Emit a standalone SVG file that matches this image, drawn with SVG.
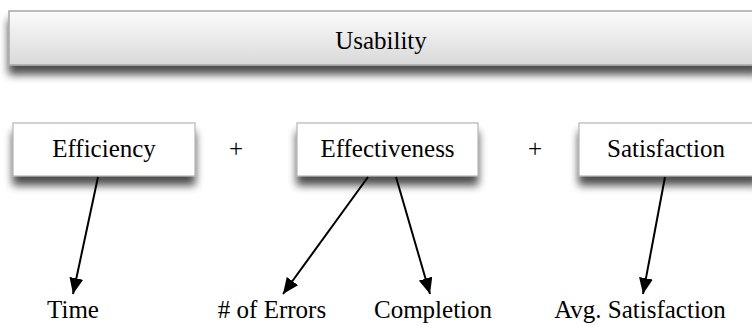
<svg xmlns="http://www.w3.org/2000/svg" width="752" height="325" viewBox="0 0 752 325">
<style>
  text { font-family: 'Liberation Serif', 'Times New Roman', Times, serif; font-size: 25px; fill: #000; text-anchor: middle; }
  .box { fill: #ffffff; stroke: #a6a6a6; stroke-width: 1; }
  .top { fill: url(#grad); stroke: #a6a6a6; stroke-width: 1.5; }
  .edge { stroke: #000; stroke-width: 2; fill: none; marker-end: url(#arrow); }
</style>
<defs>
  <linearGradient id="grad" x1="0" y1="0" x2="0" y2="1">
    <stop offset="0" stop-color="#fbfbfb"/>
    <stop offset="1" stop-color="#d9d9d9"/>
  </linearGradient>
  <filter id="shadow" x="-10%" y="-20%" width="120%" height="180%">
    <feGaussianBlur in="SourceAlpha" stdDeviation="4"/>
    <feOffset dx="0" dy="9" result="b"/>
    <feComponentTransfer><feFuncA type="linear" slope="0.7"/></feComponentTransfer>
    <feMerge><feMergeNode/><feMergeNode in="SourceGraphic"/></feMerge>
  </filter>
  <marker id="arrow" markerWidth="16" markerHeight="14" refX="16" refY="7" orient="auto" markerUnits="userSpaceOnUse">
    <path d="M0,0 L16,7 L0,14 Z" fill="#000"/>
  </marker>
</defs>
<rect width="752" height="325" fill="#ffffff"/>
<g id="usability">
  <rect class="top" x="9" y="11" width="750" height="54" filter="url(#shadow)"/>
  <text x="381" y="49" font-family="Liberation Serif, serif">Usability</text>
</g>
<g id="efficiency">
  <rect class="box" x="13" y="123" width="182" height="53" filter="url(#shadow)"/>
  <text x="104" y="157" font-family="Liberation Serif, serif">Efficiency</text>
</g>
<g id="effectiveness">
  <rect class="box" x="297" y="123" width="181" height="53" filter="url(#shadow)"/>
  <text x="387.5" y="157" font-family="Liberation Serif, serif">Effectiveness</text>
</g>
<g id="satisfaction">
  <rect class="box" x="579" y="123" width="180" height="53" filter="url(#shadow)"/>
  <text x="666" y="157" font-family="Liberation Serif, serif">Satisfaction</text>
</g>
<g id="plus1"><text x="236" y="157" font-family="Liberation Serif, serif">+</text></g>
<g id="plus2"><text x="535" y="157" font-family="Liberation Serif, serif">+</text></g>
<g id="time"><text x="73" y="318" font-family="Liberation Serif, serif">Time</text></g>
<g id="errors"><text x="272" y="318" font-family="Liberation Serif, serif"># of Errors</text></g>
<g id="completion"><text x="433" y="318" font-family="Liberation Serif, serif">Completion</text></g>
<g id="avgsat"><text x="640" y="318" font-family="Liberation Serif, serif">Avg. Satisfaction</text></g>
<g id="connectors">
  <line class="edge" x1="98" y1="177" x2="73" y2="294"/>
  <line class="edge" x1="368" y1="177" x2="283" y2="294"/>
  <line class="edge" x1="396" y1="177" x2="430" y2="294"/>
  <line class="edge" x1="665" y1="177" x2="643" y2="294"/>
</g>
</svg>
